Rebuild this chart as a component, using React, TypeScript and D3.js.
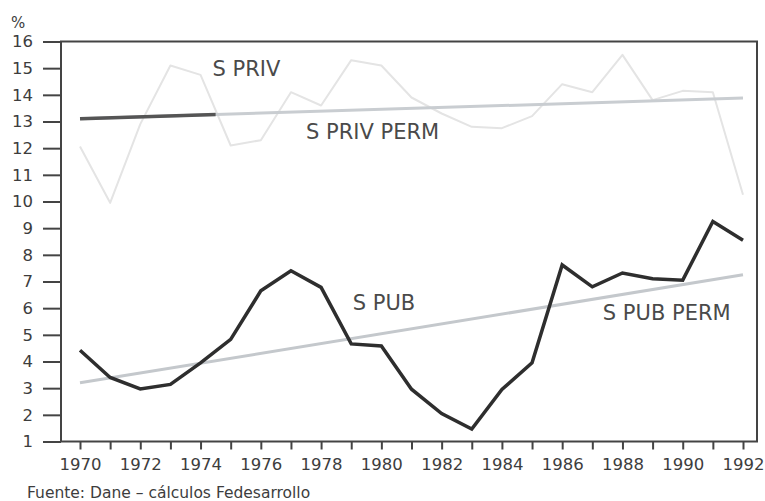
import React, { useEffect, useRef } from 'react';
import * as d3 from 'd3';

// years on the x axis
const years = d3.range(1970, 1993);

// S PUB (public savings, % of GDP)
const sPub = [
  4.42, 3.4, 2.97, 3.14, 3.95, 4.83, 6.65, 7.4, 6.78, 4.66, 4.58, 2.96, 2.05,
  1.47, 2.95, 3.95, 7.62, 6.8, 7.32, 7.1, 7.05, 9.25, 8.55,
];

// S PRIV (private savings, % of GDP)
const sPriv = [
  12.06, 9.95, 12.9, 15.1, 14.75, 12.1, 12.3, 14.1, 13.6, 15.3, 15.1, 13.9,
  13.3, 12.8, 12.75, 13.2, 14.4, 14.1, 15.5, 13.8, 14.15, 14.1, 10.25,
];

// permanent (trend) components: start and end of each line
const sPubPerm = [
  { year: 1970, value: 3.2 },
  { year: 1992, value: 7.25 },
];
const sPrivPerm = [
  { year: 1970, value: 13.1 },
  { year: 1992, value: 13.88 },
];
const privPermDarkUntil = 1974.5;

const yTicks = d3.range(1, 17);

const labels = [
  { text: 'S PRIV', year: 1974.4, value: 14.7 },
  { text: 'S PRIV PERM', year: 1977.5, value: 12.35 },
  { text: 'S PUB', year: 1979.05, value: 5.95 },
  { text: 'S PUB PERM', year: 1987.35, value: 5.55 },
];

const FONT = '"DejaVu Sans", sans-serif';
const INK = '#3d3d3d';

const App = () => {
  const svgRef = useRef(null);

  useEffect(() => {
    const svg = d3.select(svgRef.current);
    const width = 765;
    const height = 501;
    const left = 61;
    const right = 757;

    const x = d3.scaleLinear().domain([1970, 1992]).range([80, 743]);
    const y = d3.scaleLinear().domain([1, 16]).range([441.5, 41.5]);

    svg.attr('width', width).attr('height', height);

    // y axis ticks + labels
    const yAxis = svg
      .append('g')
      .attr('transform', `translate(${left},0)`)
      .call(
        d3.axisLeft(y).tickValues(yTicks).tickSize(18).tickSizeOuter(0).tickPadding(10),
      );
    yAxis.select('.domain').remove();
    yAxis.selectAll('line').attr('stroke', '#444').attr('stroke-width', 2);
    yAxis
      .selectAll('text')
      .attr('font-family', FONT)
      .attr('font-size', 16.5)
      .attr('fill', INK);

    // x axis ticks + labels
    const xAxis = svg
      .append('g')
      .attr('transform', `translate(0,${y(1)})`)
      .call(
        d3
          .axisBottom(x)
          .tickValues(years)
          .tickSize(8)
          .tickSizeOuter(0)
          .tickPadding(9)
          .tickFormat((d) => ((d as number) % 2 === 0 ? String(d) : '')),
      );
    xAxis.select('.domain').remove();
    xAxis.selectAll('line').attr('stroke', '#444').attr('stroke-width', 2);
    xAxis
      .selectAll('text')
      .attr('font-family', FONT)
      .attr('font-size', 16.5)
      .attr('fill', INK);

    // frame
    svg
      .append('rect')
      .attr('x', left)
      .attr('y', y(16))
      .attr('width', right - left)
      .attr('height', y(1) - y(16))
      .attr('fill', 'none')
      .attr('stroke', '#444')
      .attr('stroke-width', 2);

    const line = d3
      .line<number>()
      .x((_, i) => x(years[i]))
      .y((d) => y(d));

    const permLine = d3
      .line<{ year: number; value: number }>()
      .x((d) => x(d.year))
      .y((d) => y(d.value));

    // S PRIV (very faint)
    svg
      .append('path')
      .datum(sPriv)
      .attr('d', line)
      .attr('fill', 'none')
      .attr('stroke', '#e4e4e4')
      .attr('stroke-width', 2)
      .attr('stroke-linejoin', 'round');

    // S PRIV PERM
    svg
      .append('path')
      .datum(sPrivPerm)
      .attr('d', permLine)
      .attr('fill', 'none')
      .attr('stroke', '#c9cdd1')
      .attr('stroke-width', 3);

    svg
      .append('clipPath')
      .attr('id', 'dark-part')
      .append('rect')
      .attr('x', 0)
      .attr('y', 0)
      .attr('width', x(privPermDarkUntil))
      .attr('height', height);

    svg
      .append('path')
      .datum(sPrivPerm)
      .attr('d', permLine)
      .attr('clip-path', 'url(#dark-part)')
      .attr('fill', 'none')
      .attr('stroke', '#555')
      .attr('stroke-width', 3.5);

    // S PUB PERM
    svg
      .append('path')
      .datum(sPubPerm)
      .attr('d', permLine)
      .attr('fill', 'none')
      .attr('stroke', '#c4c8cc')
      .attr('stroke-width', 3);

    // S PUB
    svg
      .append('path')
      .datum(sPub)
      .attr('d', line)
      .attr('fill', 'none')
      .attr('stroke', '#2e2e2e')
      .attr('stroke-width', 3.5)
      .attr('stroke-linejoin', 'miter');

    // series labels
    svg
      .selectAll('.series-label')
      .data(labels)
      .enter()
      .append('text')
      .attr('class', 'series-label')
      .attr('x', (d) => x(d.year))
      .attr('y', (d) => y(d.value))
      .attr('font-family', FONT)
      .attr('font-size', 21)
      .attr('fill', '#4a4a4a')
      .text((d) => d.text);

    // unit
    svg
      .append('text')
      .attr('x', 11)
      .attr('y', 28)
      .attr('font-family', FONT)
      .attr('font-size', 15)
      .attr('fill', INK)
      .text('%');

    // source
    svg
      .append('text')
      .attr('x', 27)
      .attr('y', 498)
      .attr('font-family', FONT)
      .attr('font-size', 15.5)
      .attr('fill', INK)
      .text('Fuente: Dane – cálculos Fedesarrollo');

    return () => {
      svg.selectAll('*').remove();
    };
  }, []);

  return (
    <div style={{ position: 'absolute', left: 0, top: 0 }}>
      <svg ref={svgRef} style={{ display: 'block', background: '#fff' }}></svg>
    </div>
  );
};

export default App;
